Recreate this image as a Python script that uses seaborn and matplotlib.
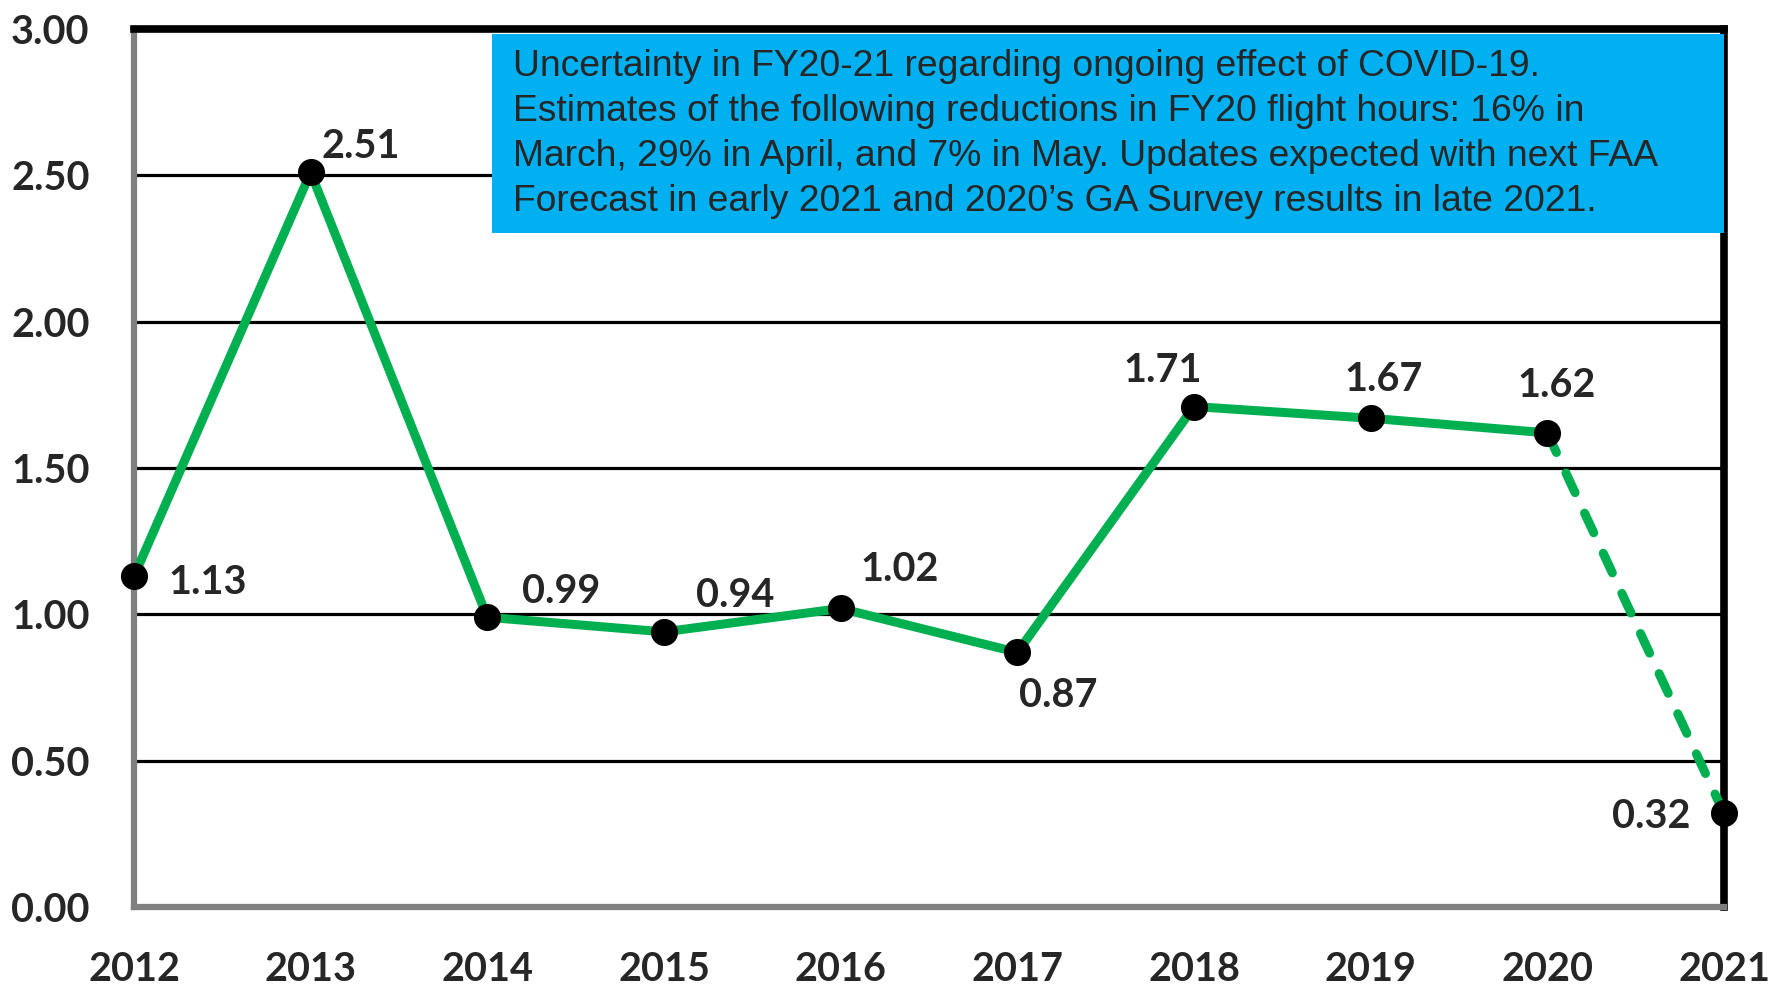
import matplotlib
matplotlib.use("Agg")
import matplotlib.pyplot as plt
import seaborn as sns
import pandas as pd
from matplotlib.patches import Rectangle

years = [2012, 2013, 2014, 2015, 2016, 2017, 2018, 2019, 2020, 2021]
values = [1.13, 2.51, 0.99, 0.94, 1.02, 0.87, 1.71, 1.67, 1.62, 0.32]
value_labels = ["1.13", "2.51", "0.99", "0.94", "1.02", "0.87", "1.71", "1.67", "1.62", "0.32"]
yticks = [0.0, 0.5, 1.0, 1.5, 2.0, 2.5, 3.0]
ytick_labels = ["0.00", "0.50", "1.00", "1.50", "2.00", "2.50", "3.00"]
note_lines = [
    "Uncertainty in FY20-21 regarding ongoing effect of COVID-19.",
    "Estimates of the following reductions in FY20 flight hours: 16% in",
    "March, 29% in April, and 7% in May. Updates expected with next FAA",
    "Forecast in early 2021 and 2020\u2019s GA Survey results in late 2021.",
]
# label offsets in pixels (dx, dy)
label_offsets = [(74, -6), (50, 26), (74, 26), (71, 36), (59, 39), (41, -43),
                 (-31, 36), (13, 39), (9, 47), (-73, -3)]

sns.set_style("white")
plt.rcParams["font.family"] = ["Lato", "DejaVu Sans"]

df = pd.DataFrame({"year": years, "value": values})
solid = df.iloc[:9]
dashed = df.iloc[8:]

fig = plt.figure(figsize=(17.84, 9.85), dpi=100)
ax = fig.add_axes([134 / 1784, 1 - 907 / 985, (1724 - 134) / 1784, (907 - 29) / 985])

green = "#00B050"
sns.lineplot(data=solid, x="year", y="value", ax=ax, color=green, linewidth=6.5,
             solid_capstyle="round", zorder=4)
sns.lineplot(data=dashed, x="year", y="value", ax=ax, color=green, linewidth=6.5,
             linestyle=(0, (2.4, 2.5)), dash_capstyle="round", zorder=4)
sns.scatterplot(data=df, x="year", y="value", ax=ax, color="black", s=380,
                edgecolor="black", linewidth=0, zorder=6, clip_on=False)

ax.set_xlim(2012, 2021)
ax.set_ylim(0, 3)
ax.set_xticks(years)
ax.set_xticklabels([str(y) for y in years])
ax.set_yticks(yticks)
ax.set_yticklabels(ytick_labels)
ax.set_xlabel("")
ax.set_ylabel("")

for yv in yticks[1:-1]:
    ax.axhline(yv, color="black", linewidth=2.3, zorder=1)

for side in ["top", "right"]:
    ax.spines[side].set_color("black")
    ax.spines[side].set_linewidth(5.5)
for side in ["left", "bottom"]:
    ax.spines[side].set_color("#7f7f7f")
    ax.spines[side].set_linewidth(4.5)
ax.axvline(2012, color="black", linewidth=1.2, zorder=2)
ax.axhline(0, color="black", linewidth=1.2, zorder=2)

ax.tick_params(axis="both", direction="out", length=8, width=2.5, color="#7f7f7f",
               labelsize=28.5, pad=24)
for lab in ax.get_xticklabels() + ax.get_yticklabels():
    lab.set_fontweight("bold")

for x, y, t, (dx, dy) in zip(years, values, value_labels, label_offsets):
    ax.annotate(t, (x, y), xytext=(dx, dy), textcoords="offset pixels",
                ha="center", va="center", fontsize=28.5, fontweight="bold", zorder=7)

x0 = (492 - 134) / 1590
y1 = (907 - 34) / 878
y0 = (907 - 233) / 878
ax.add_patch(Rectangle((x0, y0), 1 - x0, y1 - y0, transform=ax.transAxes,
                       facecolor="#00B0F0", edgecolor="none", zorder=3))
ax.text((513 - 134) / 1590, (907 - 49) / 878, "\n".join(note_lines), transform=ax.transAxes,
        ha="left", va="top", fontsize=26.8, family=["Liberation Sans"], linespacing=1.37,
        zorder=5)

fig.savefig("out.png", dpi=100, facecolor="white")
